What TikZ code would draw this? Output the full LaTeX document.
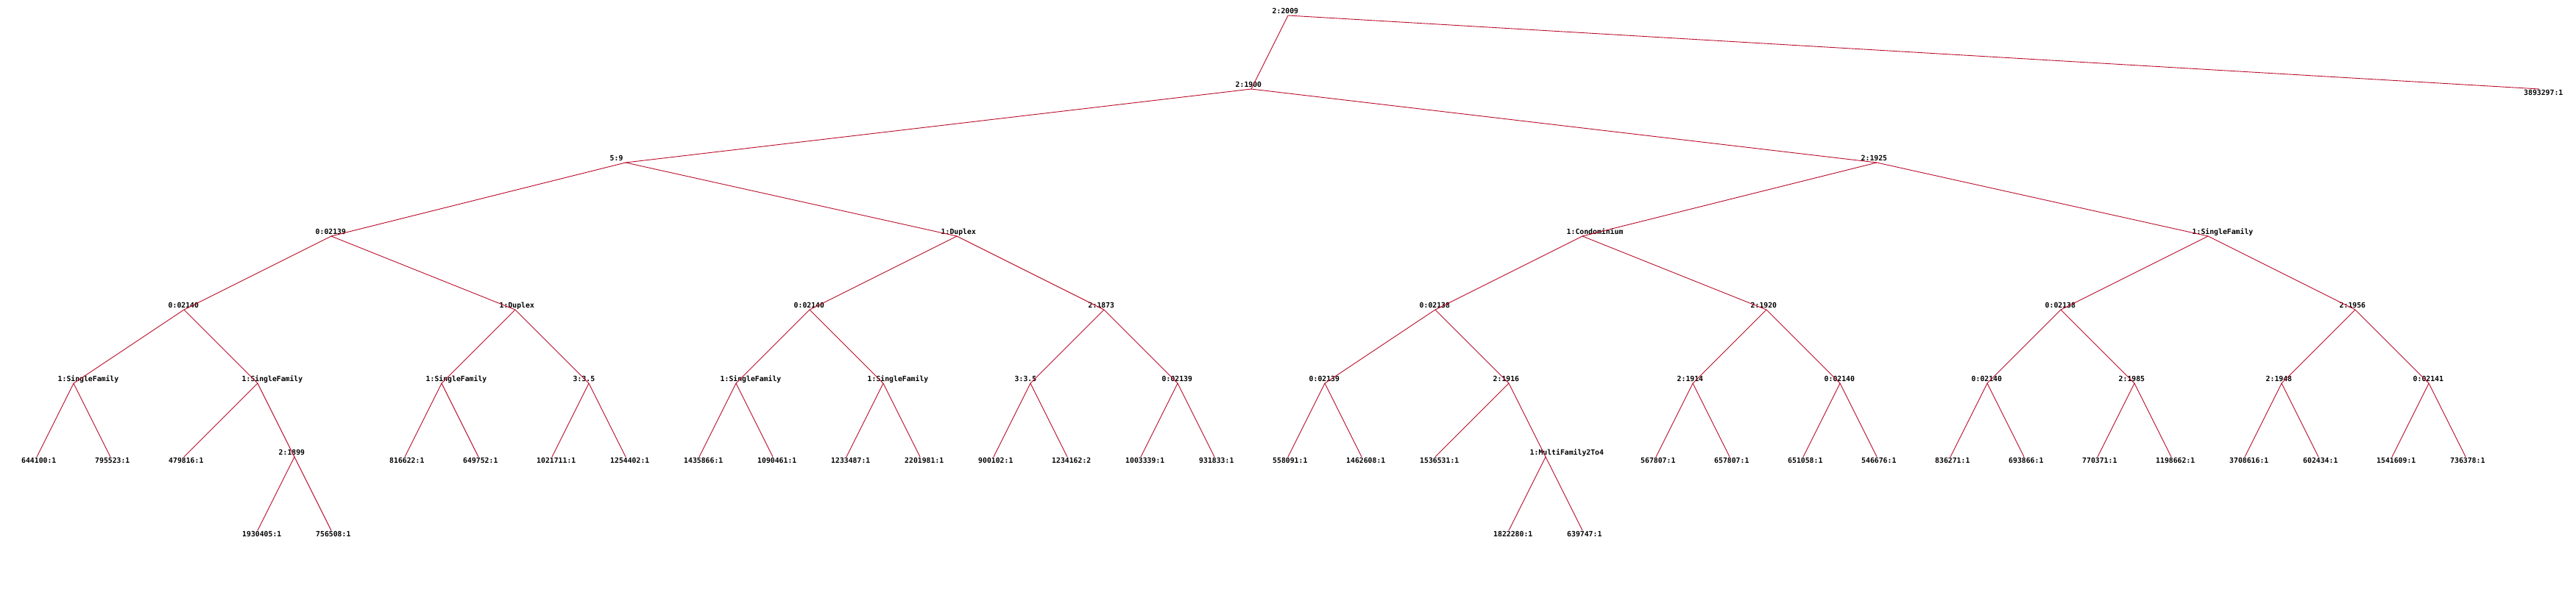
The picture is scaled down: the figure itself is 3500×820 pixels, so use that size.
\documentclass[tikz,border=0pt]{standalone}
\usepackage{fontspec}
\newfontfamily\labfont{DejaVu Sans Mono}
\definecolor{edgered}{RGB}{185,12,42}
\tikzset{
  edge/.style={draw=edgered, line width=0.9pt},
  ilab/.style={anchor=base west, inner sep=0pt, font=\labfont\bfseries\fontsize{9.8}{12}\selectfont},
  llab/.style={anchor=base west, inner sep=0pt, font=\labfont\bfseries\fontsize{9.8}{12}\selectfont}
}
% internal node: name, x, y, text
\newcommand{\tnd}[4]{\coordinate (#1) at (#2,#3); \node[ilab] (#1-t) at (#2-21.5,#3-3) {#4};}
% leaf node: name, x, y, text
\newcommand{\tlf}[4]{\coordinate (#1) at (#2,#3); \node[llab] (#1-t) at (#2-21,#3+8.5) {#4};}
\begin{document}
\begin{tikzpicture}[x=1pt,y=-1pt]
\useasboundingbox[fill=white] (0,0) rectangle (3500,820);
% internal nodes
\tnd{R}{1750}{21}{2:2009}
\tnd{A}{1700}{121}{2:1900}
\tnd{B}{850}{221}{5:9}
\tnd{C}{2550}{221}{2:1925}
\tnd{D}{450}{321}{0:02139}
\tnd{E}{1300}{321}{1:Duplex}
\tnd{F}{2150}{321}{1:Condominium}
\tnd{G}{3000}{321}{1:SingleFamily}
\tnd{D1}{250}{421}{0:02140}
\tnd{D2}{700}{421}{1:Duplex}
\tnd{E1}{1100}{421}{0:02140}
\tnd{E2}{1500}{421}{2:1873}
\tnd{F1}{1950}{421}{0:02138}
\tnd{F2}{2400}{421}{2:1920}
\tnd{G1}{2800}{421}{0:02138}
\tnd{G2}{3200}{421}{2:1956}
\tnd{D11}{100}{521}{1:SingleFamily}
\tnd{D12}{350}{521}{1:SingleFamily}
\tnd{D21}{600}{521}{1:SingleFamily}
\tnd{D22}{800}{521}{3:3.5}
\tnd{E11}{1000}{521}{1:SingleFamily}
\tnd{E12}{1200}{521}{1:SingleFamily}
\tnd{E21}{1400}{521}{3:3.5}
\tnd{E22}{1600}{521}{0:02139}
\tnd{F11}{1800}{521}{0:02139}
\tnd{F12}{2050}{521}{2:1916}
\tnd{F21}{2300}{521}{2:1914}
\tnd{F22}{2500}{521}{0:02140}
\tnd{G11}{2700}{521}{0:02140}
\tnd{G12}{2900}{521}{2:1985}
\tnd{G21}{3100}{521}{2:1948}
\tnd{G22}{3300}{521}{0:02141}
\tnd{D121}{400}{621}{2:1899}
\tnd{F121}{2100}{621}{1:MultiFamily2To4}
% leaves
\tlf{L0}{50}{621}{644100:1}
\tlf{L1}{150}{621}{795523:1}
\tlf{L2}{250}{621}{479816:1}
\tlf{L3}{350}{721}{1930405:1}
\tlf{L4}{450}{721}{756508:1}
\tlf{L5}{550}{621}{816622:1}
\tlf{L6}{650}{621}{649752:1}
\tlf{L7}{750}{621}{1021711:1}
\tlf{L8}{850}{621}{1254402:1}
\tlf{L9}{950}{621}{1435866:1}
\tlf{L10}{1050}{621}{1090461:1}
\tlf{L11}{1150}{621}{1233487:1}
\tlf{L12}{1250}{621}{2201981:1}
\tlf{L13}{1350}{621}{900102:1}
\tlf{L14}{1450}{621}{1234162:2}
\tlf{L15}{1550}{621}{1003339:1}
\tlf{L16}{1650}{621}{931833:1}
\tlf{L17}{1750}{621}{558091:1}
\tlf{L18}{1850}{621}{1462608:1}
\tlf{L19}{1950}{621}{1536531:1}
\tlf{L20}{2050}{721}{1822280:1}
\tlf{L21}{2150}{721}{639747:1}
\tlf{L22}{2250}{621}{567807:1}
\tlf{L23}{2350}{621}{657807:1}
\tlf{L24}{2450}{621}{651058:1}
\tlf{L25}{2550}{621}{546676:1}
\tlf{L26}{2650}{621}{836271:1}
\tlf{L27}{2750}{621}{693866:1}
\tlf{L28}{2850}{621}{770371:1}
\tlf{L29}{2950}{621}{1198662:1}
\tlf{L30}{3050}{621}{3708616:1}
\tlf{L31}{3150}{621}{602434:1}
\tlf{L32}{3250}{621}{1541609:1}
\tlf{L33}{3350}{621}{736378:1}
\tlf{L34}{3450}{121}{3893297:1}
% edges
\draw[edge] (R) -- (A);
\draw[edge] (R) -- (L34);
\draw[edge] (A) -- (B);
\draw[edge] (A) -- (C);
\draw[edge] (B) -- (D);
\draw[edge] (B) -- (E);
\draw[edge] (C) -- (F);
\draw[edge] (C) -- (G);
\draw[edge] (D) -- (D1);
\draw[edge] (D) -- (D2);
\draw[edge] (E) -- (E1);
\draw[edge] (E) -- (E2);
\draw[edge] (F) -- (F1);
\draw[edge] (F) -- (F2);
\draw[edge] (G) -- (G1);
\draw[edge] (G) -- (G2);
\draw[edge] (D1) -- (D11);
\draw[edge] (D1) -- (D12);
\draw[edge] (D2) -- (D21);
\draw[edge] (D2) -- (D22);
\draw[edge] (E1) -- (E11);
\draw[edge] (E1) -- (E12);
\draw[edge] (E2) -- (E21);
\draw[edge] (E2) -- (E22);
\draw[edge] (F1) -- (F11);
\draw[edge] (F1) -- (F12);
\draw[edge] (F2) -- (F21);
\draw[edge] (F2) -- (F22);
\draw[edge] (G1) -- (G11);
\draw[edge] (G1) -- (G12);
\draw[edge] (G2) -- (G21);
\draw[edge] (G2) -- (G22);
\draw[edge] (D11) -- (L0);
\draw[edge] (D11) -- (L1);
\draw[edge] (D12) -- (L2);
\draw[edge] (D12) -- (D121);
\draw[edge] (D121) -- (L3);
\draw[edge] (D121) -- (L4);
\draw[edge] (D21) -- (L5);
\draw[edge] (D21) -- (L6);
\draw[edge] (D22) -- (L7);
\draw[edge] (D22) -- (L8);
\draw[edge] (E11) -- (L9);
\draw[edge] (E11) -- (L10);
\draw[edge] (E12) -- (L11);
\draw[edge] (E12) -- (L12);
\draw[edge] (E21) -- (L13);
\draw[edge] (E21) -- (L14);
\draw[edge] (E22) -- (L15);
\draw[edge] (E22) -- (L16);
\draw[edge] (F11) -- (L17);
\draw[edge] (F11) -- (L18);
\draw[edge] (F12) -- (L19);
\draw[edge] (F12) -- (F121);
\draw[edge] (F121) -- (L20);
\draw[edge] (F121) -- (L21);
\draw[edge] (F21) -- (L22);
\draw[edge] (F21) -- (L23);
\draw[edge] (F22) -- (L24);
\draw[edge] (F22) -- (L25);
\draw[edge] (G11) -- (L26);
\draw[edge] (G11) -- (L27);
\draw[edge] (G12) -- (L28);
\draw[edge] (G12) -- (L29);
\draw[edge] (G21) -- (L30);
\draw[edge] (G21) -- (L31);
\draw[edge] (G22) -- (L32);
\draw[edge] (G22) -- (L33);
\end{tikzpicture}
\end{document}
